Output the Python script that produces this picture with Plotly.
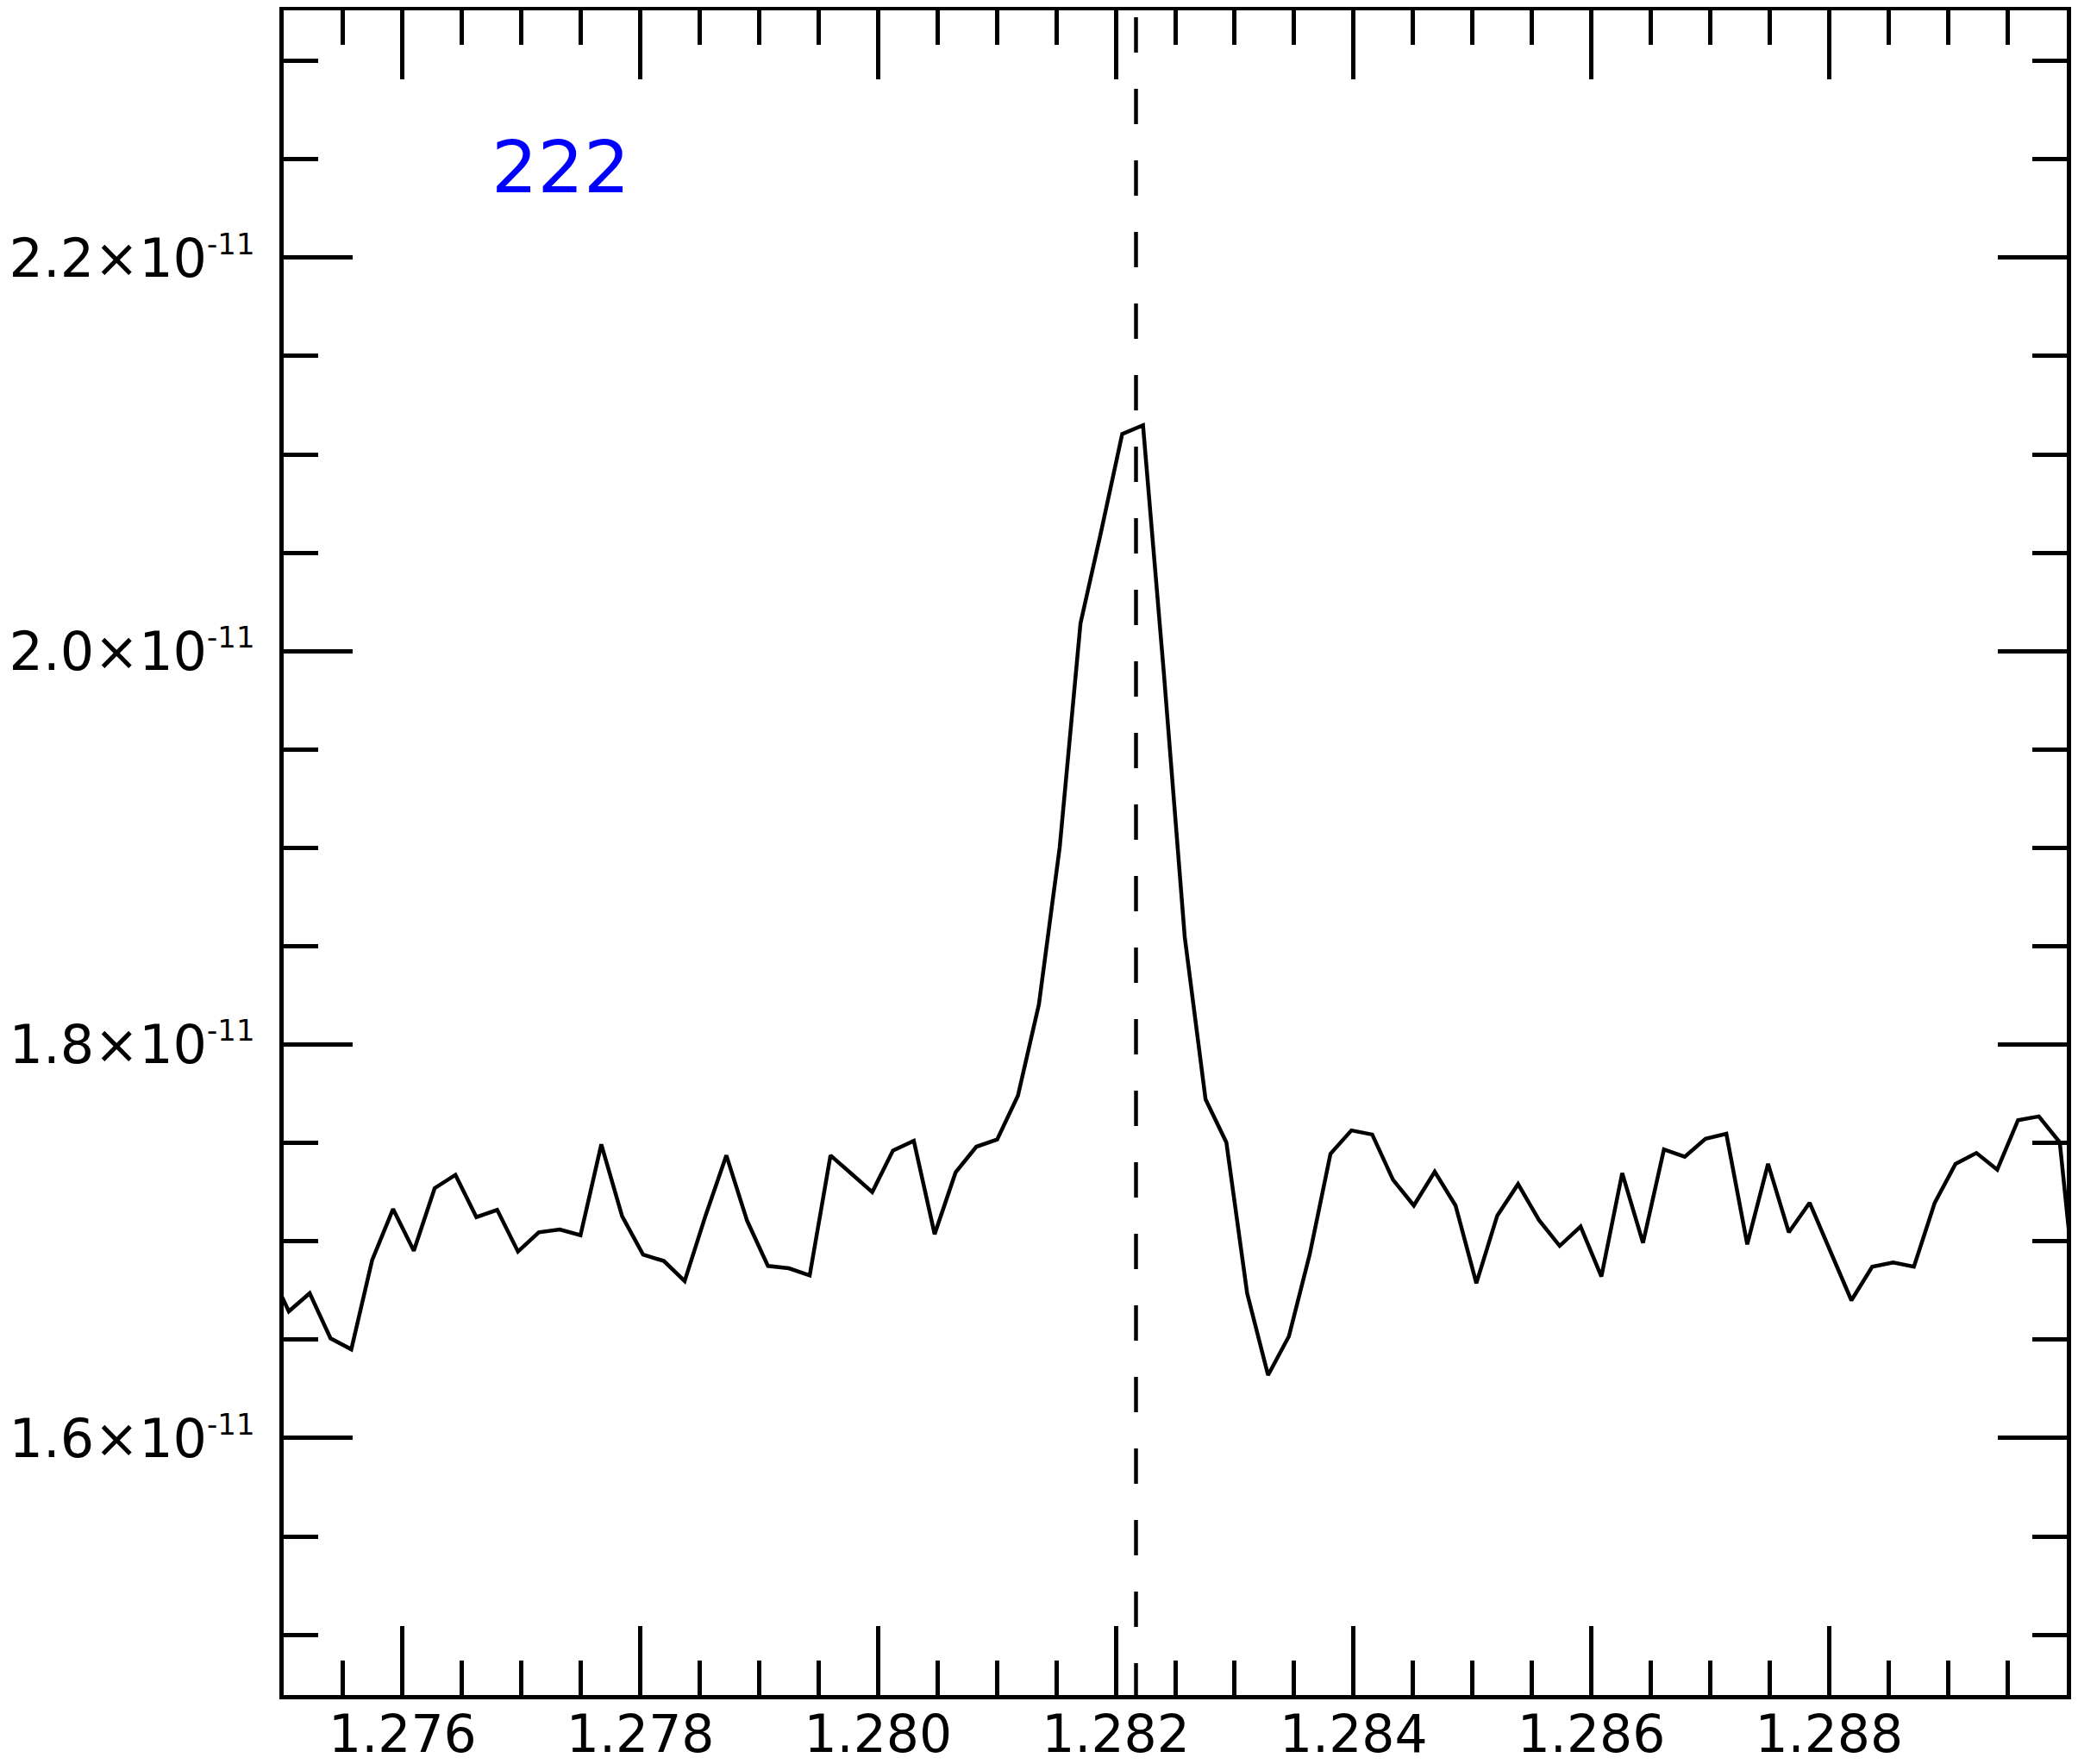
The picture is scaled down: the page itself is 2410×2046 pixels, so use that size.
import plotly.graph_objects as go

# wavelength grid (micron)
wavelength = [
    1.274868, 1.275043, 1.275219, 1.275394, 1.275569, 1.275744, 1.275920, 1.276095,
    1.276270, 1.276445, 1.276621, 1.276796, 1.276971, 1.277146, 1.277322, 1.277497,
    1.277672, 1.277847, 1.278023, 1.278198, 1.278373, 1.278549, 1.278724, 1.278899,
    1.279074, 1.279250, 1.279425, 1.279600, 1.279775, 1.279951, 1.280126, 1.280301,
    1.280476, 1.280652, 1.280827, 1.281002, 1.281177, 1.281353, 1.281528, 1.281703,
    1.281879, 1.282054, 1.282229, 1.282404, 1.282580, 1.282755, 1.282930, 1.283105,
    1.283281, 1.283456, 1.283631, 1.283806, 1.283982, 1.284157, 1.284332, 1.284507,
    1.284683, 1.284858, 1.285033, 1.285209, 1.285384, 1.285559, 1.285734, 1.285910,
    1.286085, 1.286260, 1.286435, 1.286611, 1.286786, 1.286961, 1.287136, 1.287312,
    1.287487, 1.287662, 1.287837, 1.288013, 1.288188, 1.288363, 1.288539, 1.288714,
    1.288889, 1.289064, 1.289240, 1.289415, 1.289590, 1.289765, 1.289941, 1.290116,
]

# flux in units of 1e-11
flux_e11 = [
    1.6872, 1.6644, 1.6736, 1.6507, 1.6451, 1.6904, 1.7164, 1.6952,
    1.7270, 1.7338, 1.7123, 1.7160, 1.6948, 1.7046, 1.7060, 1.7031,
    1.7493, 1.7128, 1.6933, 1.6900, 1.6798, 1.7131, 1.7437, 1.7104,
    1.6875, 1.6863, 1.6827, 1.7437, 1.7344, 1.7250, 1.7462, 1.7511,
    1.7036, 1.7350, 1.7481, 1.7518, 1.7741, 1.8204, 1.9002, 2.0141,
    2.0614, 2.1104, 2.1148, 1.9891, 1.8547, 1.7722, 1.7503, 1.6736,
    1.6320, 1.6517, 1.6933, 1.7445, 1.7564, 1.7543, 1.7313, 1.7182,
    1.7354, 1.7182, 1.6787, 1.7131, 1.7291, 1.7109, 1.6977, 1.7075,
    1.6821, 1.7347, 1.6992, 1.7467, 1.7430, 1.7521, 1.7547, 1.6985,
    1.7394, 1.7046, 1.7196, 1.6952, 1.6700, 1.6871, 1.6893, 1.6871,
    1.7196, 1.7394, 1.7449, 1.7364, 1.7616, 1.7635, 1.7503, 1.6473,
]
flux = [v * 1e-11 for v in flux_e11]

line_center = 1.28217
label = "222"

x_tick_vals = [1.276, 1.278, 1.280, 1.282, 1.284, 1.286, 1.288]
x_tick_text = ["1.276", "1.278", "1.280", "1.282", "1.284", "1.286", "1.288"]
y_tick_vals = [1.6e-11, 1.8e-11, 2.0e-11, 2.2e-11]
y_mantissa = ["1.6", "1.8", "2.0", "2.2"]
y_tick_text = [
    m + '×10<sup><span style="font-size:34px">-11</span></sup>' for m in y_mantissa
]

x_range = [1.275, 1.290]
y_range = [1.4694e-11, 2.3257e-11]

FONT = "DejaVu Sans"

fig = go.Figure()
fig.add_trace(go.Scatter(
    x=wavelength, y=flux, mode="lines",
    line=dict(color="black", width=4.5),
    showlegend=False, hoverinfo="skip",
))

# dashed marker at the line centre
fig.add_shape(
    type="line", xref="x", yref="y",
    x0=line_center, x1=line_center, y0=2.3222e-11, y1=y_range[0],
    line=dict(color="black", width=4.5, dash="41px,42px"),
)

fig.add_annotation(
    x=1.27733, y=2.246e-11, xref="x", yref="y",
    text=label, showarrow=False,
    font=dict(family=FONT, size=84, color="#0000ff"),
    xanchor="center", yanchor="middle",
)

axis_common = dict(
    showgrid=False, zeroline=False, automargin=False,
    showline=True, linecolor="black", linewidth=5,
    mirror="allticks", ticks="inside", ticklen=80, tickwidth=5, tickcolor="black",
)

fig.update_xaxes(
    range=x_range, tickmode="array", tickvals=x_tick_vals, ticktext=x_tick_text,
    ticklabelstandoff=-11,
    tickfont=dict(family=FONT, size=60, color="black"),
    minor=dict(ticks="inside", ticklen=40, tickwidth=5, tickcolor="black",
               tickmode="linear", tick0=1.275, dtick=0.0005),
    **axis_common,
)
fig.update_yaxes(
    range=y_range, tickmode="array", tickvals=y_tick_vals, ticktext=y_tick_text,
    ticklabelstandoff=16,
    tickfont=dict(family=FONT, size=62, color="black"),
    minor=dict(ticks="inside", ticklen=40, tickwidth=5, tickcolor="black",
               tickmode="linear", tick0=1.5e-11, dtick=0.05e-11),
    **axis_common,
)

# the page body keeps its default 8px margin, so the figure is a bit smaller
fig.update_layout(
    width=2402, height=2038,
    margin=dict(l=321, r=13, t=4, b=80),
    paper_bgcolor="white", plot_bgcolor="white",
    font=dict(family=FONT, color="black"),
)

fig.write_html("out.html")
